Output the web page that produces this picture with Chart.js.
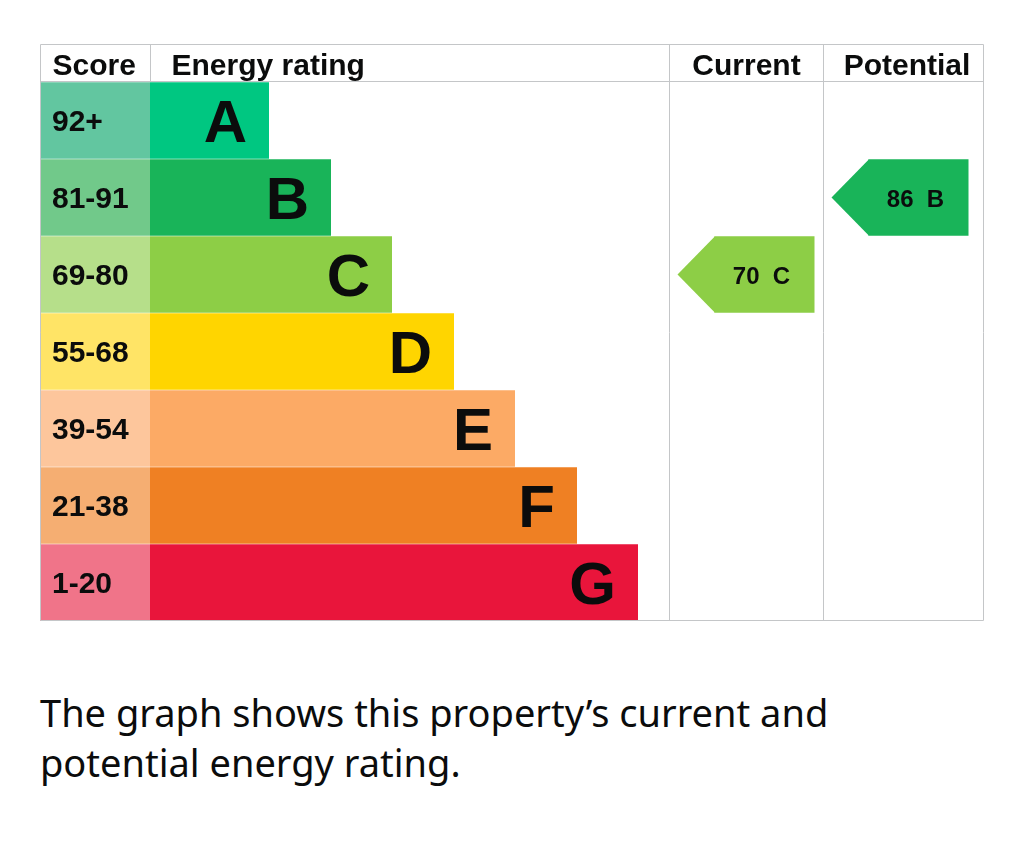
<!DOCTYPE html>
<html lang="en">
<head>
    <meta charset="UTF-8">
    <title>Energy rating</title>
    <style>
        body {
            margin: 0;
            background: #ffffff;
            width: 1024px;
            height: 848px;
            position: relative;
            overflow: hidden;
        }
        .chart-box {
            position: absolute;
            left: 40px;
            top: 44px;
            width: 944px;
            height: 578px;
        }
        .caption {
            position: absolute;
            left: 40px;
            top: 687px;
            margin: 0;
            font-family: "Noto Sans", sans-serif;
            font-size: 38px;
            line-height: 50px;
            color: #0b0c0c;
        }
    </style>
    <script src="https://cdn.jsdelivr.net/npm/chart.js"></script>
</head>
<body>
    <div class="chart-box">
        <canvas id="epcChart"></canvas>
    </div>
    <p class="caption">The graph shows this property’s current and<br>potential energy rating.</p>

    <script>
        // Bands, score ranges and bar lengths (x units across the table)
        const bands = ['A', 'B', 'C', 'D', 'E', 'F', 'G'];
        const scoreRanges = ['92+', '81-91', '69-80', '55-68', '39-54', '21-38', '1-20'];
        const barEnds = [229, 291, 352, 414, 475, 537, 598];
        const bandColors = ['#00c781', '#19b459', '#8dce46', '#ffd500', '#fcaa65', '#ef8023', '#e9153b'];
        const scoreColors = ['#62c6a0', '#71c98a', '#b6df8a', '#ffe466', '#fdc69c', '#f5ae72', '#f07489'];

        const currentScore = 70;
        const currentBand = 'C';
        const potentialScore = 86;
        const potentialBand = 'B';

        // Table columns, in x units
        const scoreCol = [0, 110];
        const ratingCol = [110, 629];
        const currentCol = [629, 783];
        const potentialCol = [783, 944];
        const headerHeight = 38;
        const tipWidth = 37;
        const arrowWidth = 137;

        function arrowData(band, col) {
            const start = col[0] + 8.5;
            return bands.map(b => b === band ? [start + tipWidth, start + arrowWidth] : null);
        }

        const gridPlugin = {
            id: 'epcGrid',
            afterDatasetsDraw(chart) {
                const { ctx, chartArea, scales } = chart;
                const x = v => Math.round(scales.x.getPixelForValue(v)) + 0.5;
                const top = chartArea.top - headerHeight + 0.5;
                const bottom = Math.round(chartArea.bottom) - 0.5;
                const headBottom = Math.round(chartArea.top) - 0.5;

                ctx.save();
                ctx.strokeStyle = '#c4c6c8';
                ctx.lineWidth = 1;
                ctx.beginPath();
                // outer border
                ctx.rect(x(scoreCol[0]), top, x(potentialCol[1]) - x(scoreCol[0]) - 1, bottom - top);
                // header line
                ctx.moveTo(x(scoreCol[0]), headBottom);
                ctx.lineTo(x(potentialCol[1]) - 1, headBottom);
                // column lines
                ctx.moveTo(x(scoreCol[1]), top);
                ctx.lineTo(x(scoreCol[1]), headBottom);
                ctx.moveTo(x(currentCol[0]), top);
                ctx.lineTo(x(currentCol[0]), bottom);
                ctx.moveTo(x(potentialCol[0]), top);
                ctx.lineTo(x(potentialCol[0]), bottom);
                ctx.stroke();

                // header text
                const headY = chartArea.top - headerHeight + 31;
                ctx.fillStyle = '#0b0c0c';
                ctx.font = 'bold 30px "Liberation Sans", Arial, sans-serif';
                ctx.textBaseline = 'alphabetic';
                ctx.textAlign = 'left';
                ctx.fillText('Score', x(scoreCol[0]) + 12, headY);
                ctx.fillText('Energy rating', x(ratingCol[0]) + 21, headY);
                ctx.textAlign = 'center';
                ctx.fillText('Current', (x(currentCol[0]) + x(currentCol[1])) / 2, headY);
                ctx.fillText('Potential', (x(potentialCol[0]) + x(potentialCol[1])) / 2 + 3, headY);

                // score ranges and band letters
                const scoreMeta = chart.getDatasetMeta(0);
                const ratingMeta = chart.getDatasetMeta(1);
                bands.forEach((b, i) => {
                    const cell = scoreMeta.data[i];
                    const bar = ratingMeta.data[i];
                    ctx.textAlign = 'left';
                    ctx.font = 'bold 30px "Liberation Sans", Arial, sans-serif';
                    ctx.fillText(scoreRanges[i], cell.base + 12, cell.y + 10);
                    ctx.textAlign = 'right';
                    ctx.font = 'bold 60px "Liberation Sans", Arial, sans-serif';
                    ctx.fillText(b, bar.x - 22, bar.y + 21);
                });

                // arrow tips and labels for current / potential
                [[2, currentScore, currentBand], [3, potentialScore, potentialBand]].forEach(([di, score, band]) => {
                    const meta = chart.getDatasetMeta(di);
                    const el = meta.data[bands.indexOf(band)];
                    const h = el.height;
                    ctx.fillStyle = bandColors[bands.indexOf(band)];
                    ctx.beginPath();
                    ctx.moveTo(el.base + 0.5, el.y - h / 2);
                    ctx.lineTo(el.base - tipWidth, el.y);
                    ctx.lineTo(el.base + 0.5, el.y + h / 2);
                    ctx.closePath();
                    ctx.fill();
                    ctx.fillStyle = '#0b0c0c';
                    ctx.textAlign = 'center';
                    ctx.font = 'bold 24px "Liberation Sans", Arial, sans-serif';
                    ctx.fillText(score + '  ' + band, (el.base + el.x) / 2 - 3, el.y + 9);
                });
                ctx.restore();
            }
        };

        const ctx = document.getElementById('epcChart').getContext('2d');
        const chart = new Chart(ctx, {
            type: 'bar',
            data: {
                labels: bands,
                datasets: [
                    {
                        label: 'Score',
                        data: bands.map(() => scoreCol),
                        backgroundColor: scoreColors
                    },
                    {
                        label: 'Energy rating',
                        data: barEnds.map(end => [ratingCol[0], end]),
                        backgroundColor: bandColors
                    },
                    {
                        label: 'Current',
                        data: arrowData(currentBand, currentCol),
                        backgroundColor: bandColors[bands.indexOf(currentBand)]
                    },
                    {
                        label: 'Potential',
                        data: arrowData(potentialBand, potentialCol),
                        backgroundColor: bandColors[bands.indexOf(potentialBand)]
                    }
                ]
            },
            options: {
                indexAxis: 'y',
                responsive: true,
                maintainAspectRatio: false,
                animation: false,
                devicePixelRatio: 1,
                layout: { padding: { top: headerHeight, left: 0, right: 0, bottom: 1 } },
                datasets: {
                    bar: {
                        grouped: false,
                        barPercentage: 0.995,
                        categoryPercentage: 1,
                        borderWidth: 0
                    }
                },
                scales: {
                    x: { display: false, min: 0, max: 944 },
                    y: { display: false }
                },
                plugins: {
                    legend: { display: false },
                    tooltip: { enabled: false }
                }
            },
            plugins: [gridPlugin]
        });
    </script>
</body>
</html>
